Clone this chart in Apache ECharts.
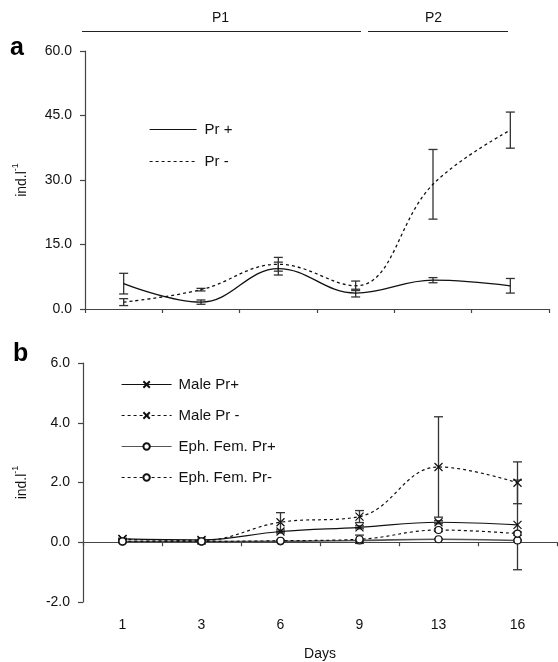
<!DOCTYPE html>
<html>
<head>
<meta charset="utf-8">
<script src="https://cdn.jsdelivr.net/npm/echarts@6/dist/echarts.min.js"></script>
<style>
  html, body { margin: 0; padding: 0; background: #fff; }
  #chart { width: 558px; height: 662px; }
</style>
</head>
<body>
<div id="chart"></div>
<script>
// days (evenly spaced categories)
const days = ['1', '3', '6', '9', '13', '16']

// panel a: total abundance (ind.l-1), mean and +/- error
const prPlus = [5.9, 1.6, 9.4, 3.7, 6.7, 5.4]
const prPlusErr = [2.4, 0.5, 1.5, 0.9, 0.6, 1.7]
const prMinus = [1.6, 4.5, 10.4, 5.4, 29.0, 41.6]
const prMinusErr = [0.8, 0.3, 1.6, 1.1, 8.1, 4.2]

// panel b: males and ephippial females
const malePlus = [0.11, 0.08, 0.36, 0.5, 0.67, 0.58]
const malePlusErr = [0.02, 0.02, 0.05, 0.05, 0.05, 1.5]
const maleMinus = [0.1, 0.06, 0.67, 0.86, 2.52, 1.99]
const maleMinusErr = [0.03, 0.03, 0.32, 0.2, 1.68, 0.7]
const femPlus = [0.02, 0.02, 0.03, 0.06, 0.1, 0.06]
const femPlusErr = [0.01, 0.01, 0.01, 0.02, 0.02, 0.02]
const femMinus = [0.03, 0.03, 0.05, 0.1, 0.41, 0.29]
const femMinusErr = [0.01, 0.01, 0.02, 0.14, 0.05, 0.05]

const ticksA = [0, 15, 30, 45, 60]
const ticksB = [-2, 0, 2, 4, 6]

const font = "'Liberation Sans', Arial, sans-serif"
const ink = '#111'
const crossSymbol = 'path://M0,0L10,10M10,0L0,10'

const chart = echarts.init(document.getElementById('chart'))

// barras de error con una serie custom
const errorBars = (name, gridIdx, values, errs) => ({
  name: name,
  type: 'custom',
  xAxisIndex: gridIdx === 0 ? 0 : 1,
  yAxisIndex: gridIdx,
  silent: true,
  z: 1,
  data: values.map((v, i) => [i, v - errs[i], v + errs[i]]),
  renderItem: (params, api) => {
    const lo = api.coord([api.value(0), api.value(1)])
    const hi = api.coord([api.value(0), api.value(2)])
    const w = 4.5
    const style = { stroke: '#333', lineWidth: 1.3 }
    return {
      type: 'group',
      children: [
        { type: 'line', shape: { x1: hi[0], y1: hi[1], x2: lo[0], y2: lo[1] }, style: style },
        { type: 'line', shape: { x1: hi[0] - w, y1: hi[1], x2: hi[0] + w, y2: hi[1] }, style: style },
        { type: 'line', shape: { x1: lo[0] - w, y1: lo[1], x2: lo[0] + w, y2: lo[1] }, style: style }
      ]
    }
  }
})

const yName = {
  name: '{b|ind.l}{s|-1}',
  nameLocation: 'middle',
  nameRotate: 90,
  nameTextStyle: {
    rich: {
      b: { fontSize: 14, fontFamily: font, color: ink, lineHeight: 18, verticalAlign: 'bottom' },
      s: { fontSize: 9, fontFamily: font, color: ink, lineHeight: 18, verticalAlign: 'top' }
    }
  }
}

const axisCommon = {
  axisLine: { show: true, lineStyle: { color: '#444', width: 1.2 } },
  axisTick: { show: true, length: 5, lineStyle: { color: '#444', width: 1.2 } },
  splitLine: { show: false }
}

const option = {
  animation: false,
  backgroundColor: '#fff',
  textStyle: { fontFamily: font },
  grid: [
    { left: 85, right: 9, top: 51, height: 258 },
    { left: 83, right: 1, top: 363, height: 241 }
  ],
  xAxis: [
    {
      gridIndex: 0, type: 'category', data: days, boundaryGap: true,
      ...axisCommon,
      axisTick: { show: true, length: 4, lineStyle: { color: '#444', width: 1.2 } },
      axisLabel: { show: false }
    },
    {
      gridIndex: 1, type: 'category', data: days, boundaryGap: true,
      ...axisCommon,
      axisLine: { show: true, onZero: true, lineStyle: { color: '#444', width: 1.2 } },
      axisTick: { show: true, length: 4, lineStyle: { color: '#444', width: 1.2 } },
      axisLabel: { show: false }
    },
    {
      gridIndex: 1, type: 'category', data: days, boundaryGap: true, position: 'bottom',
      axisLine: { show: false, onZero: false },
      axisTick: { show: false },
      splitLine: { show: false },
      axisLabel: { show: true, margin: 16, fontSize: 14, color: ink, fontFamily: font },
      name: 'Days', nameLocation: 'middle', nameGap: 45,
      nameTextStyle: { fontSize: 14, color: ink, fontFamily: font }
    }
  ],
  yAxis: [
    {
      gridIndex: 0, type: 'value', min: ticksA[0], max: ticksA[ticksA.length - 1], interval: 15,
      ...axisCommon,
      ...yName, nameGap: 56,
      axisLabel: { margin: 13, fontSize: 14, color: ink, fontFamily: font, formatter: v => v.toFixed(1) }
    },
    {
      gridIndex: 1, type: 'value', min: ticksB[0], max: ticksB[ticksB.length - 1], interval: 2,
      ...axisCommon,
      ...yName, nameGap: 54,
      axisLabel: { margin: 13, fontSize: 14, color: ink, fontFamily: font, formatter: v => v.toFixed(1) }
    }
  ],
  legend: [
    {
      data: ['Pr +', 'Pr -'],
      orient: 'vertical', left: 144, top: 117,
      itemWidth: 47, itemHeight: 14, itemGap: 17,
      itemStyle: { color: 'transparent', borderWidth: 0 },
      lineStyle: { width: 1.2 },
      textStyle: { fontSize: 15, color: ink, fontFamily: font, padding: [0, 0, 0, 3] },
      selectedMode: false
    },
    {
      data: ['Male Pr+', 'Male Pr -', 'Eph. Fem. Pr+', 'Eph. Fem. Pr-'],
      orient: 'vertical', left: 116, top: 372,
      itemWidth: 50, itemHeight: 8, itemGap: 16,
      lineStyle: { width: 1.2 },
      textStyle: { fontSize: 15, color: ink, fontFamily: font, padding: [0, 0, 0, 2] },
      selectedMode: false
    }
  ],
  graphic: [
    { type: 'text', left: 10, top: 36, style: { text: 'a', font: 'bold 25px ' + font, fill: '#000' } },
    { type: 'text', left: 13, top: 342, style: { text: 'b', font: 'bold 25px ' + font, fill: '#000' } },
    { type: 'text', left: 212, top: 11, style: { text: 'P1', font: '14px ' + font, fill: ink } },
    { type: 'text', left: 425, top: 11, style: { text: 'P2', font: '14px ' + font, fill: ink } },
    { type: 'line', shape: { x1: 82, y1: 31.5, x2: 361, y2: 31.5 }, style: { stroke: '#222', lineWidth: 1.2 } },
    { type: 'line', shape: { x1: 368, y1: 31.5, x2: 508, y2: 31.5 }, style: { stroke: '#222', lineWidth: 1.2 } }
  ],
  series: [
    {
      name: 'Pr +', type: 'line', xAxisIndex: 0, yAxisIndex: 0, data: prPlus,
      smooth: 0.4, symbol: 'none',
      lineStyle: { color: ink, width: 1.3, type: 'solid' }, itemStyle: { color: ink }, z: 3
    },
    {
      name: 'Pr -', type: 'line', xAxisIndex: 0, yAxisIndex: 0, data: prMinus,
      smooth: 0.4, symbol: 'none',
      lineStyle: { color: ink, width: 1.3, type: [3, 3] }, itemStyle: { color: ink }, z: 3
    },
    errorBars('errPrPlus', 0, prPlus, prPlusErr),
    errorBars('errPrMinus', 0, prMinus, prMinusErr),
    {
      name: 'Male Pr+', type: 'line', xAxisIndex: 1, yAxisIndex: 1, data: malePlus,
      smooth: 0.4, symbol: crossSymbol, symbolSize: 8,
      lineStyle: { color: ink, width: 1.2, type: 'solid' },
      itemStyle: { color: 'none', borderColor: ink, borderWidth: 1.2 }, z: 3
    },
    {
      name: 'Male Pr -', type: 'line', xAxisIndex: 1, yAxisIndex: 1, data: maleMinus,
      smooth: 0.4, symbol: crossSymbol, symbolSize: 8,
      lineStyle: { color: ink, width: 1.2, type: [3, 3] },
      itemStyle: { color: 'none', borderColor: ink, borderWidth: 1.2 }, z: 3
    },
    {
      name: 'Eph. Fem. Pr+', type: 'line', xAxisIndex: 1, yAxisIndex: 1, data: femPlus,
      smooth: 0.4, symbol: 'circle', symbolSize: 7,
      lineStyle: { color: '#555', width: 1.6, type: 'solid' },
      itemStyle: { color: '#fff', borderColor: ink, borderWidth: 1.2 }, z: 3
    },
    {
      name: 'Eph. Fem. Pr-', type: 'line', xAxisIndex: 1, yAxisIndex: 1, data: femMinus,
      smooth: 0.4, symbol: 'circle', symbolSize: 7,
      lineStyle: { color: ink, width: 1.2, type: [3, 3] },
      itemStyle: { color: '#fff', borderColor: ink, borderWidth: 1.2 }, z: 3
    },
    errorBars('errMalePlus', 1, malePlus, malePlusErr),
    errorBars('errMaleMinus', 1, maleMinus, maleMinusErr),
    errorBars('errFemPlus', 1, femPlus, femPlusErr),
    errorBars('errFemMinus', 1, femMinus, femMinusErr)
  ]
}

chart.setOption(option)
</script>
</body>
</html>
